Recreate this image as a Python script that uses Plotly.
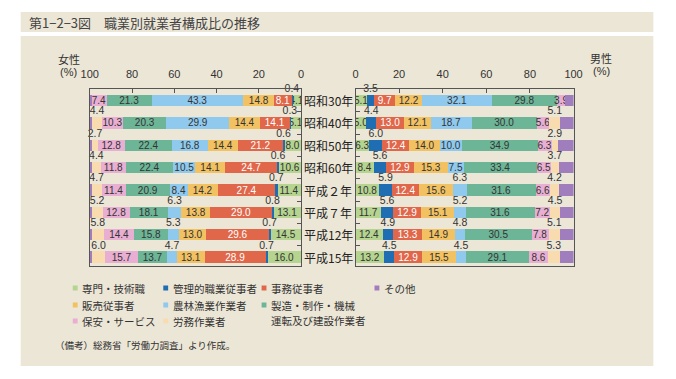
import plotly.graph_objects as go

W, H = 676, 379

years = ["昭和30年", "昭和40年", "昭和50年", "昭和60年", "平成２年", "平成７年", "平成12年", "平成15年"]
categories = ["専門・技術職", "管理的職業従事者", "事務従事者", "販売従事者", "農林漁業作業者",
              "製造・制作・機械", "保安・サービス", "労務作業者", "その他"]

female_senmon = [4.1, 5.1, 8.0, 10.6, 11.4, 13.1, 14.5, 16.0]
female_kanri = [0.4, 0.3, 0.6, 0.6, 0.7, 0.8, 0.7, 0.7]
female_jimu = [8.1, 14.1, 21.2, 24.7, 27.4, 29.0, 29.6, 28.9]
female_hanbai = [14.8, 14.4, 14.4, 14.1, 14.2, 13.8, 13.0, 13.1]
female_noorin = [43.3, 29.9, 16.8, 10.5, 8.4, 6.3, 5.3, 4.7]
female_seizo = [21.3, 20.3, 22.4, 22.4, 20.9, 18.1, 15.8, 13.7]
female_hoan = [7.4, 10.3, 12.8, 11.8, 11.4, 12.8, 14.4, 15.7]
female_romu = [0.0, 4.4, 2.7, 4.4, 4.7, 5.2, 5.8, 6.0]
female_sonota = [0.6, 1.2, 1.1, 0.9, 0.9, 0.9, 0.9, 1.2]

male_senmon = [5.1, 5.0, 6.3, 8.4, 10.8, 11.7, 12.4, 13.2]
male_kanri = [3.5, 4.4, 6.0, 5.6, 5.9, 5.6, 4.9, 4.5]
male_jimu = [9.7, 13.0, 12.4, 12.9, 12.4, 12.9, 13.3, 12.9]
male_hanbai = [12.2, 12.1, 14.0, 15.3, 15.6, 15.1, 14.9, 15.5]
male_noorin = [32.1, 18.7, 10.0, 7.5, 6.3, 5.2, 4.8, 4.5]
male_seizo = [29.8, 30.0, 34.9, 33.4, 31.6, 31.6, 30.5, 29.1]
male_hoan = [3.9, 5.6, 6.3, 6.5, 6.6, 7.2, 7.8, 8.6]
male_romu = [0.0, 5.1, 2.9, 3.7, 4.2, 4.5, 5.1, 5.3]
male_sonota = [3.7, 6.1, 7.2, 6.7, 6.6, 6.2, 6.3, 6.4]

female = [female_senmon, female_kanri, female_jimu, female_hanbai, female_noorin,
          female_seizo, female_hoan, female_romu, female_sonota]
male = [male_senmon, male_kanri, male_jimu, male_hanbai, male_noorin,
        male_seizo, male_hoan, male_romu, male_sonota]

colors = ["#B5D490", "#1F6DB3", "#E0674A", "#F2C162", "#8FC9EE",
          "#6DB597", "#E9AFD3", "#F8DCAF", "#A07EBE"]
text_colors = ["#333", "#333", "#FFFFFF", "#333", "#333", "#333", "#333", "#333", "#333"]

FONT = "Liberation Sans, Arial, Noto Sans CJK JP, sans-serif"
JP = "Noto Sans CJK JP, sans-serif"


def X(px):
    return px / W


def Y(py):
    return 1 - py / H


def mode_of(ci, v):
    if v <= 0 or ci == 8:
        return "none"
    if ci in (1, 7):
        return "above"
    if ci == 4 and v < 7:
        return "above"
    return "inside"


rows = list(range(len(years)))
fig = go.Figure()

for side, data, xa, ya in (("f", female, "x", "y"), ("m", male, "x2", "y2")):
    cum = [0.0] * len(years)
    ax_x, ax_y, ax_t = [], [], []
    for ci, vals in enumerate(data):
        texts = []
        for i, v in enumerate(vals):
            m = mode_of(ci, v)
            texts.append(f"{v:.1f}" if m == "inside" else "")
            if m == "above":
                ax_x.append(cum[i] + v / 2)
                ax_y.append(i - 0.5)
                ax_t.append(f"{v:.1f}")
        fig.add_trace(go.Bar(
            orientation="h", x=vals, y=rows, xaxis=xa, yaxis=ya,
            name=categories[ci], showlegend=False,
            marker=dict(color=colors[ci], line=dict(width=0)),
            width=0.5, text=texts, textposition="inside", textangle=0,
            insidetextanchor="middle", constraintext="none",
            textfont=dict(size=10, color=text_colors[ci], family=FONT),
            hoverinfo="skip",
        ))
        cum = [c + v for c, v in zip(cum, vals)]
    fig.add_trace(go.Scatter(
        x=ax_x, y=ax_y, xaxis=xa, yaxis=ya, mode="text", text=ax_t,
        textposition="middle center", textfont=dict(size=10.5, color="#333", family=FONT),
        cliponaxis=False, showlegend=False, hoverinfo="skip",
    ))

yr = [7.40, -0.52]
ydom = [Y(266), Y(89)]
common_x = dict(side="top", tickvals=[0, 20, 40, 60, 80, 100], ticks="inside", ticklen=4,
                tickcolor="#555", showline=True, linecolor="#555", linewidth=1, mirror=True,
                showgrid=False, zeroline=False, tickfont=dict(size=11, color="#333", family=FONT),
                ticklabelstandoff=6, fixedrange=True)
common_y = dict(range=yr, domain=ydom, tickvals=[i + 0.5 for i in range(7)], ticks="inside",
                ticklen=4, tickcolor="#555", showticklabels=False, showline=True,
                linecolor="#555", linewidth=1, mirror=True, showgrid=False, zeroline=False,
                fixedrange=True)

fig.update_layout(
    width=W, height=H, margin=dict(l=0, r=0, t=0, b=0), autosize=False,
    paper_bgcolor="white", plot_bgcolor="white", barmode="stack",
    font=dict(family=FONT, color="#333"),
    uniformtext=dict(minsize=10, mode="show"),
    xaxis=dict(common_x, domain=[X(83), X(300)], range=[100, 0], anchor="y"),
    yaxis=dict(common_y, anchor="x", side="right"),
    xaxis2=dict(common_x, domain=[X(356), X(580)], range=[0, 100], anchor="y2"),
    yaxis2=dict(common_y, anchor="x2", side="left"),
)

shapes = [
    dict(type="rect", xref="paper", yref="paper", x0=X(12), x1=X(662), y0=Y(12), y1=Y(32),
         fillcolor="#ECE6D6", line=dict(width=0), layer="below"),
    dict(type="rect", xref="paper", yref="paper", x0=X(12), x1=X(662), y0=Y(36), y1=Y(366),
         fillcolor="#ECE6D6", line=dict(width=0), layer="below"),
]

ann = []
ann.append(dict(x=X(19), y=Y(22), xref="paper", yref="paper", xanchor="left", yanchor="middle",
                text="第1−2−3図　職業別就業者構成比の推移", showarrow=False,
                font=dict(size=13, color="#444", family=JP)))
ann.append(dict(x=X(62), y=Y(59), xref="paper", yref="paper", xanchor="center", yanchor="middle",
                text="女性", showarrow=False, font=dict(size=11, color="#333", family=JP)))
ann.append(dict(x=X(61), y=Y(72), xref="paper", yref="paper", xanchor="center", yanchor="middle",
                text="(%)", showarrow=False, font=dict(size=11, color="#333", family=FONT)))
ann.append(dict(x=X(608), y=Y(58), xref="paper", yref="paper", xanchor="center", yanchor="middle",
                text="男性", showarrow=False, font=dict(size=11, color="#333", family=JP)))
ann.append(dict(x=X(609), y=Y(71), xref="paper", yref="paper", xanchor="center", yanchor="middle",
                text="(%)", showarrow=False, font=dict(size=11, color="#333", family=FONT)))

for i, yname in enumerate(years):
    ann.append(dict(x=X(328), y=i, xref="paper", yref="y", xanchor="center", yanchor="middle",
                    text=yname, showarrow=False, font=dict(size=12, color="#222", family=JP)))

legend_items = [
    (0, 68, 288, "専門・技術職"), (1, 161, 288, "管理的職業従事者"), (2, 262, 288, "事務従事者"),
    (8, 378, 288, "その他"),
    (3, 68, 305, "販売従事者"), (4, 161, 305, "農林漁業作業者"), (5, 262, 305, "製造・制作・機械"),
    (6, 68, 321, "保安・サービス"), (7, 161, 321, "労務作業者"),
]
for ci, lx, ly, label in legend_items:
    shapes.append(dict(type="rect", xref="paper", yref="paper", x0=X(lx - 2.5), x1=X(lx + 2.5),
                       y0=Y(ly + 2.5), y1=Y(ly - 2.5), fillcolor=colors[ci], line=dict(width=0)))
    ann.append(dict(x=X(lx + 5), y=Y(ly), xref="paper", yref="paper", xanchor="left",
                    yanchor="middle", text=label, showarrow=False,
                    font=dict(size=10.5, color="#333", family=JP)))
ann.append(dict(x=X(267), y=Y(320), xref="paper", yref="paper", xanchor="left", yanchor="middle",
                text="運転及び建設作業者", showarrow=False, font=dict(size=10.5, color="#333", family=JP)))
ann.append(dict(x=X(45), y=Y(345), xref="paper", yref="paper", xanchor="left", yanchor="middle",
                text="（備考）総務省「労働力調査」より作成。", showarrow=False,
                font=dict(size=9.5, color="#333", family=JP)))

fig.update_layout(shapes=shapes, annotations=ann)
fig.write_html("out.html", config={"displayModeBar": False},
               post_script="document.body.style.margin='0';document.body.style.overflow='hidden';")
